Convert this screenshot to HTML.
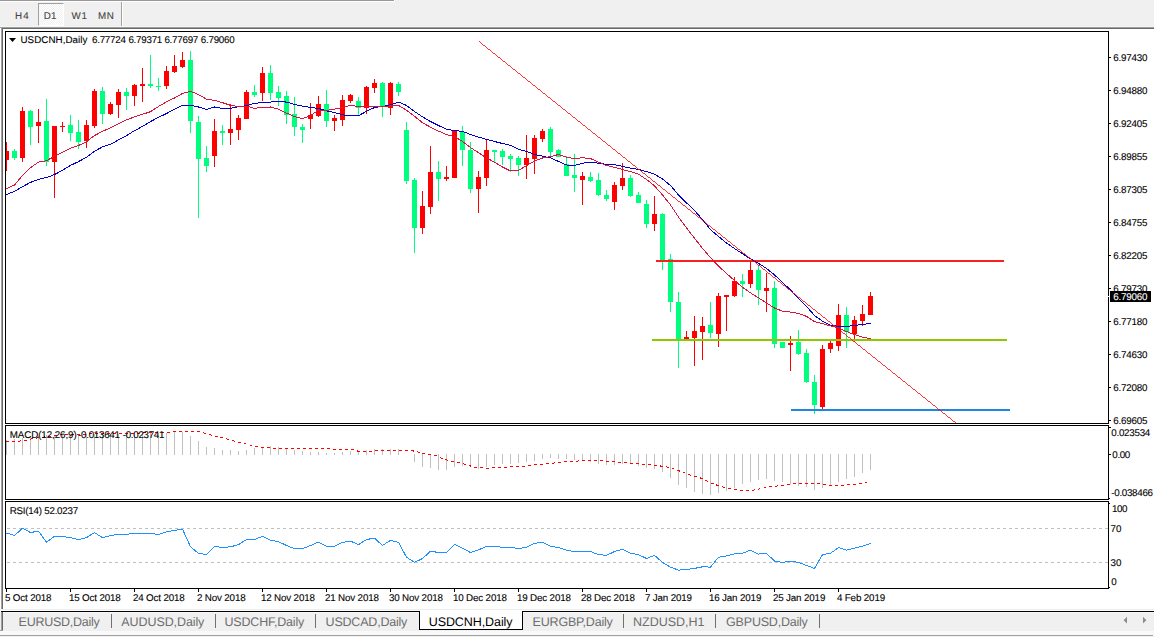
<!DOCTYPE html>
<html><head><meta charset="utf-8"><title>USDCNH,Daily</title>
<style>
html,body{margin:0;padding:0;background:#fff;}
body{width:1154px;height:637px;overflow:hidden;position:relative;font-family:"Liberation Sans", sans-serif;}
#wrap{position:absolute;left:0;top:0;width:1154px;height:637px;overflow:hidden;background:#fff;}
.abs{position:absolute;}
#wrap div{text-rendering:geometricPrecision;-webkit-text-stroke:0.1px;}
.t{position:absolute;white-space:nowrap;font-size:9px;line-height:11px;color:#000;}
svg{position:absolute;left:0;top:0;}
</style></head><body><div id="wrap">
<div class="abs" style="left:0;top:0;width:1154px;height:27px;background:#f0f0f0;"></div>
<div class="abs" style="left:0;top:0;width:394px;height:1px;background:#989898;"></div>
<div class="abs" style="left:0;top:1px;width:395px;height:1px;background:#fff;"></div><div class="abs" style="left:394px;top:0;width:1px;height:2px;background:#fff;"></div>
<div class="abs" style="left:0;top:26px;width:1154px;height:1px;background:#f4f4f4;"></div>
<div class="abs" style="left:0;top:27px;width:1154px;height:1px;background:#a0a0a0;"></div>
<div class="abs" style="left:0;top:28px;width:1154px;height:1px;background:#696969;"></div>
<div class="abs" style="left:38px;top:3px;width:26px;height:23px;box-sizing:border-box;border-left:1px solid #a0a0a0;border-top:1px solid #a0a0a0;border-right:1px solid #fff;border-bottom:1px solid #fff;background:conic-gradient(#fff 25%,#f0f0f0 0 50%,#fff 0 75%,#f0f0f0 0) 0 0/2px 2px;"></div>
<div class="abs" style="left:121px;top:2px;width:1px;height:24px;background:#a0a0a0;"></div>
<div class="abs" style="left:122px;top:2px;width:1px;height:24px;background:#fff;"></div>
<div class="abs" style="left:0;top:28px;width:1px;height:581px;background:#fff;"></div>
<div class="abs" style="left:1px;top:27px;width:1px;height:582px;background:#a0a0a0;"></div>
<div class="abs" style="left:2px;top:28px;width:1px;height:581px;background:#696969;"></div>
<div class="abs" style="left:0;top:609px;width:1154px;height:1px;background:#ececec;"></div>
<div class="abs" style="left:1px;top:611px;width:1153px;height:1px;background:#000;"></div>
<div class="abs" style="left:0;top:612px;width:1154px;height:19px;background:#f0f0f0;"></div>
<div class="abs" style="left:0;top:612px;width:1154px;height:1px;background:#f8f8f8;"></div>
<div class="abs" style="left:0;top:631px;width:1154px;height:4px;background:#f9f9f9;"></div>
<div class="abs" style="left:0;top:635px;width:1153px;height:1px;background:#a0a0a0;"></div>
<div class="abs" style="left:0;top:636px;width:1154px;height:1px;background:#f0f0f0;"></div>
<div class="abs" style="left:1px;top:612px;width:1px;height:18px;background:#a0a0a0;"></div>
<div class="abs" style="left:2px;top:612px;width:1px;height:18px;background:#696969;"></div>
<div class="abs" style="left:0px;top:630px;width:3px;height:1px;background:#a0a0a0;"></div>
<div class="abs" style="left:419px;top:611px;width:104px;height:19px;background:#fff;border:1px solid #000;border-top:none;box-sizing:border-box;"></div>
<div class="abs" style="left:111px;top:614px;width:1px;height:14px;background:#707070;"></div>
<div class="abs" style="left:215px;top:614px;width:1px;height:14px;background:#707070;"></div>
<div class="abs" style="left:315px;top:614px;width:1px;height:14px;background:#707070;"></div>
<div class="abs" style="left:623px;top:614px;width:1px;height:14px;background:#707070;"></div>
<div class="abs" style="left:715px;top:614px;width:1px;height:14px;background:#707070;"></div>
<div class="abs" style="left:819px;top:614px;width:1px;height:14px;background:#707070;"></div>
<svg width="1154" height="637" viewBox="0 0 1154 637" shape-rendering="crispEdges">
<defs><clipPath id="cm"><rect x="6" y="32" width="1102" height="391"/></clipPath><clipPath id="c2"><rect x="6" y="426" width="1102" height="73"/></clipPath><clipPath id="c3"><rect x="6" y="502" width="1102" height="86"/></clipPath></defs>
<rect x="5" y="31" width="1104" height="1" fill="#000"/><rect x="5" y="423" width="1104" height="1" fill="#000"/><rect x="5" y="31" width="1" height="393" fill="#000"/><rect x="1108" y="31" width="1" height="393" fill="#000"/>
<rect x="5" y="425" width="1104" height="1" fill="#000"/><rect x="5" y="499" width="1104" height="1" fill="#000"/><rect x="5" y="425" width="1" height="75" fill="#000"/><rect x="1108" y="425" width="1" height="75" fill="#000"/>
<rect x="5" y="501" width="1104" height="1" fill="#000"/><rect x="5" y="588" width="1104" height="1" fill="#000"/><rect x="5" y="501" width="1" height="88" fill="#000"/><rect x="1108" y="501" width="1" height="88" fill="#000"/>
<g clip-path="url(#cm)">
<rect x="6" y="142" width="1" height="29" fill="#ff0000"/><rect x="4" y="151" width="5" height="9" fill="#ff0000"/>
<rect x="14" y="149" width="1" height="11" fill="#00ff7f"/><rect x="12" y="151" width="5" height="7" fill="#00ff7f"/>
<rect x="22" y="107" width="1" height="55" fill="#ff0000"/><rect x="20" y="111" width="5" height="47" fill="#ff0000"/>
<rect x="30" y="110" width="1" height="35" fill="#00ff7f"/><rect x="28" y="111" width="5" height="16" fill="#00ff7f"/>
<rect x="38" y="109" width="1" height="34" fill="#ff0000"/><rect x="36" y="122" width="5" height="4" fill="#ff0000"/>
<rect x="46" y="99" width="1" height="67" fill="#00ff7f"/><rect x="44" y="121" width="5" height="41" fill="#00ff7f"/>
<rect x="54" y="126" width="1" height="72" fill="#ff0000"/><rect x="52" y="126" width="5" height="36" fill="#ff0000"/>
<rect x="62" y="122" width="1" height="10" fill="#ff0000"/><rect x="60" y="126" width="5" height="1" fill="#ff0000"/>
<rect x="70" y="115" width="1" height="26" fill="#00ff7f"/><rect x="68" y="125" width="5" height="8" fill="#00ff7f"/>
<rect x="78" y="120" width="1" height="29" fill="#00ff7f"/><rect x="76" y="132" width="5" height="10" fill="#00ff7f"/>
<rect x="86" y="120" width="1" height="28" fill="#ff0000"/><rect x="84" y="125" width="5" height="16" fill="#ff0000"/>
<rect x="94" y="89" width="1" height="39" fill="#ff0000"/><rect x="92" y="91" width="5" height="35" fill="#ff0000"/>
<rect x="102" y="87" width="1" height="37" fill="#00ff7f"/><rect x="100" y="91" width="5" height="23" fill="#00ff7f"/>
<rect x="110" y="102" width="1" height="13" fill="#ff0000"/><rect x="108" y="104" width="5" height="10" fill="#ff0000"/>
<rect x="118" y="89" width="1" height="29" fill="#ff0000"/><rect x="116" y="92" width="5" height="13" fill="#ff0000"/>
<rect x="126" y="88" width="1" height="22" fill="#00ff7f"/><rect x="124" y="92" width="5" height="4" fill="#00ff7f"/>
<rect x="134" y="84" width="1" height="22" fill="#ff0000"/><rect x="132" y="85" width="5" height="11" fill="#ff0000"/>
<rect x="142" y="68" width="1" height="34" fill="#ff0000"/><rect x="140" y="84" width="5" height="2" fill="#ff0000"/>
<rect x="150" y="55" width="1" height="33" fill="#00ff7f"/><rect x="148" y="84" width="5" height="2" fill="#00ff7f"/>
<rect x="158" y="78" width="1" height="13" fill="#00ff7f"/><rect x="156" y="86" width="5" height="1" fill="#00ff7f"/>
<rect x="166" y="66" width="1" height="23" fill="#ff0000"/><rect x="164" y="71" width="5" height="15" fill="#ff0000"/>
<rect x="174" y="55" width="1" height="18" fill="#ff0000"/><rect x="172" y="66" width="5" height="6" fill="#ff0000"/>
<rect x="182" y="52" width="1" height="16" fill="#ff0000"/><rect x="180" y="60" width="5" height="7" fill="#ff0000"/>
<rect x="190" y="51" width="1" height="82" fill="#00ff7f"/><rect x="188" y="60" width="5" height="61" fill="#00ff7f"/>
<rect x="198" y="116" width="1" height="102" fill="#00ff7f"/><rect x="196" y="122" width="5" height="37" fill="#00ff7f"/>
<rect x="206" y="146" width="1" height="26" fill="#00ff7f"/><rect x="204" y="158" width="5" height="8" fill="#00ff7f"/>
<rect x="214" y="119" width="1" height="48" fill="#ff0000"/><rect x="212" y="131" width="5" height="25" fill="#ff0000"/>
<rect x="222" y="125" width="1" height="20" fill="#00ff7f"/><rect x="220" y="131" width="5" height="2" fill="#00ff7f"/>
<rect x="230" y="104" width="1" height="41" fill="#ff0000"/><rect x="228" y="129" width="5" height="4" fill="#ff0000"/>
<rect x="238" y="115" width="1" height="25" fill="#ff0000"/><rect x="236" y="118" width="5" height="12" fill="#ff0000"/>
<rect x="246" y="90" width="1" height="29" fill="#ff0000"/><rect x="244" y="92" width="5" height="27" fill="#ff0000"/>
<rect x="254" y="85" width="1" height="12" fill="#00ff7f"/><rect x="252" y="92" width="5" height="3" fill="#00ff7f"/>
<rect x="262" y="67" width="1" height="34" fill="#ff0000"/><rect x="260" y="73" width="5" height="20" fill="#ff0000"/>
<rect x="270" y="65" width="1" height="35" fill="#00ff7f"/><rect x="268" y="73" width="5" height="20" fill="#00ff7f"/>
<rect x="278" y="86" width="1" height="20" fill="#00ff7f"/><rect x="276" y="92" width="5" height="6" fill="#00ff7f"/>
<rect x="286" y="91" width="1" height="33" fill="#00ff7f"/><rect x="284" y="96" width="5" height="19" fill="#00ff7f"/>
<rect x="294" y="97" width="1" height="39" fill="#00ff7f"/><rect x="292" y="114" width="5" height="13" fill="#00ff7f"/>
<rect x="302" y="124" width="1" height="19" fill="#00ff7f"/><rect x="300" y="127" width="5" height="3" fill="#00ff7f"/>
<rect x="310" y="103" width="1" height="26" fill="#ff0000"/><rect x="308" y="115" width="5" height="4" fill="#ff0000"/>
<rect x="318" y="96" width="1" height="21" fill="#ff0000"/><rect x="316" y="104" width="5" height="12" fill="#ff0000"/>
<rect x="326" y="90" width="1" height="37" fill="#00ff7f"/><rect x="324" y="104" width="5" height="17" fill="#00ff7f"/>
<rect x="334" y="115" width="1" height="16" fill="#ff0000"/><rect x="332" y="118" width="5" height="3" fill="#ff0000"/>
<rect x="342" y="95" width="1" height="31" fill="#ff0000"/><rect x="340" y="100" width="5" height="20" fill="#ff0000"/>
<rect x="350" y="94" width="1" height="9" fill="#ff0000"/><rect x="348" y="95" width="5" height="6" fill="#ff0000"/>
<rect x="358" y="97" width="1" height="19" fill="#00ff7f"/><rect x="356" y="101" width="5" height="7" fill="#00ff7f"/>
<rect x="366" y="86" width="1" height="28" fill="#ff0000"/><rect x="364" y="87" width="5" height="21" fill="#ff0000"/>
<rect x="374" y="79" width="1" height="14" fill="#ff0000"/><rect x="372" y="83" width="5" height="5" fill="#ff0000"/>
<rect x="382" y="82" width="1" height="35" fill="#00ff7f"/><rect x="380" y="83" width="5" height="24" fill="#00ff7f"/>
<rect x="390" y="82" width="1" height="33" fill="#ff0000"/><rect x="388" y="83" width="5" height="25" fill="#ff0000"/>
<rect x="398" y="82" width="1" height="14" fill="#00ff7f"/><rect x="396" y="84" width="5" height="8" fill="#00ff7f"/>
<rect x="406" y="122" width="1" height="62" fill="#00ff7f"/><rect x="404" y="130" width="5" height="51" fill="#00ff7f"/>
<rect x="414" y="178" width="1" height="75" fill="#00ff7f"/><rect x="412" y="180" width="5" height="48" fill="#00ff7f"/>
<rect x="422" y="191" width="1" height="43" fill="#ff0000"/><rect x="420" y="206" width="5" height="22" fill="#ff0000"/>
<rect x="430" y="146" width="1" height="68" fill="#ff0000"/><rect x="428" y="172" width="5" height="35" fill="#ff0000"/>
<rect x="438" y="161" width="1" height="40" fill="#00ff7f"/><rect x="436" y="172" width="5" height="7" fill="#00ff7f"/>
<rect x="446" y="166" width="1" height="15" fill="#ff0000"/><rect x="444" y="177" width="5" height="2" fill="#ff0000"/>
<rect x="454" y="130" width="1" height="48" fill="#ff0000"/><rect x="452" y="131" width="5" height="47" fill="#ff0000"/>
<rect x="462" y="126" width="1" height="40" fill="#00ff7f"/><rect x="460" y="132" width="5" height="18" fill="#00ff7f"/>
<rect x="470" y="142" width="1" height="51" fill="#00ff7f"/><rect x="468" y="150" width="5" height="39" fill="#00ff7f"/>
<rect x="478" y="171" width="1" height="42" fill="#ff0000"/><rect x="476" y="177" width="5" height="12" fill="#ff0000"/>
<rect x="486" y="140" width="1" height="46" fill="#ff0000"/><rect x="484" y="150" width="5" height="28" fill="#ff0000"/>
<rect x="494" y="150" width="1" height="12" fill="#00ff7f"/><rect x="492" y="150" width="5" height="2" fill="#00ff7f"/>
<rect x="502" y="149" width="1" height="16" fill="#00ff7f"/><rect x="500" y="151" width="5" height="6" fill="#00ff7f"/>
<rect x="510" y="154" width="1" height="18" fill="#00ff7f"/><rect x="508" y="156" width="5" height="3" fill="#00ff7f"/>
<rect x="518" y="156" width="1" height="20" fill="#00ff7f"/><rect x="516" y="158" width="5" height="7" fill="#00ff7f"/>
<rect x="526" y="135" width="1" height="44" fill="#ff0000"/><rect x="524" y="158" width="5" height="7" fill="#ff0000"/>
<rect x="534" y="135" width="1" height="39" fill="#ff0000"/><rect x="532" y="138" width="5" height="21" fill="#ff0000"/>
<rect x="542" y="129" width="1" height="13" fill="#ff0000"/><rect x="540" y="131" width="5" height="8" fill="#ff0000"/>
<rect x="550" y="127" width="1" height="30" fill="#00ff7f"/><rect x="548" y="129" width="5" height="23" fill="#00ff7f"/>
<rect x="558" y="149" width="1" height="8" fill="#00ff7f"/><rect x="556" y="150" width="5" height="7" fill="#00ff7f"/>
<rect x="566" y="156" width="1" height="20" fill="#00ff7f"/><rect x="564" y="164" width="5" height="12" fill="#00ff7f"/>
<rect x="574" y="154" width="1" height="38" fill="#00ff7f"/><rect x="572" y="175" width="5" height="3" fill="#00ff7f"/>
<rect x="582" y="172" width="1" height="33" fill="#ff0000"/><rect x="580" y="176" width="5" height="4" fill="#ff0000"/>
<rect x="590" y="172" width="1" height="10" fill="#00ff7f"/><rect x="588" y="177" width="5" height="4" fill="#00ff7f"/>
<rect x="598" y="173" width="1" height="23" fill="#00ff7f"/><rect x="596" y="180" width="5" height="15" fill="#00ff7f"/>
<rect x="606" y="190" width="1" height="11" fill="#00ff7f"/><rect x="604" y="195" width="5" height="4" fill="#00ff7f"/>
<rect x="614" y="182" width="1" height="28" fill="#ff0000"/><rect x="612" y="185" width="5" height="17" fill="#ff0000"/>
<rect x="622" y="163" width="1" height="27" fill="#ff0000"/><rect x="620" y="178" width="5" height="8" fill="#ff0000"/>
<rect x="630" y="175" width="1" height="22" fill="#00ff7f"/><rect x="628" y="178" width="5" height="18" fill="#00ff7f"/>
<rect x="638" y="192" width="1" height="11" fill="#00ff7f"/><rect x="636" y="195" width="5" height="8" fill="#00ff7f"/>
<rect x="646" y="200" width="1" height="28" fill="#00ff7f"/><rect x="644" y="204" width="5" height="20" fill="#00ff7f"/>
<rect x="654" y="196" width="1" height="35" fill="#ff0000"/><rect x="652" y="214" width="5" height="10" fill="#ff0000"/>
<rect x="662" y="213" width="1" height="57" fill="#00ff7f"/><rect x="660" y="214" width="5" height="47" fill="#00ff7f"/>
<rect x="670" y="254" width="1" height="58" fill="#00ff7f"/><rect x="668" y="259" width="5" height="43" fill="#00ff7f"/>
<rect x="678" y="292" width="1" height="76" fill="#00ff7f"/><rect x="676" y="302" width="5" height="37" fill="#00ff7f"/>
<rect x="686" y="331" width="1" height="10" fill="#ff0000"/><rect x="684" y="337" width="5" height="4" fill="#ff0000"/>
<rect x="694" y="316" width="1" height="50" fill="#ff0000"/><rect x="692" y="331" width="5" height="7" fill="#ff0000"/>
<rect x="702" y="317" width="1" height="43" fill="#ff0000"/><rect x="700" y="326" width="5" height="6" fill="#ff0000"/>
<rect x="710" y="302" width="1" height="36" fill="#00ff7f"/><rect x="708" y="325" width="5" height="8" fill="#00ff7f"/>
<rect x="718" y="293" width="1" height="54" fill="#ff0000"/><rect x="716" y="296" width="5" height="38" fill="#ff0000"/>
<rect x="726" y="295" width="1" height="36" fill="#ff0000"/><rect x="724" y="295" width="5" height="2" fill="#ff0000"/>
<rect x="734" y="277" width="1" height="20" fill="#ff0000"/><rect x="732" y="281" width="5" height="15" fill="#ff0000"/>
<rect x="742" y="274" width="1" height="23" fill="#00ff7f"/><rect x="740" y="281" width="5" height="3" fill="#00ff7f"/>
<rect x="750" y="261" width="1" height="27" fill="#ff0000"/><rect x="748" y="270" width="5" height="14" fill="#ff0000"/>
<rect x="758" y="265" width="1" height="40" fill="#00ff7f"/><rect x="756" y="270" width="5" height="20" fill="#00ff7f"/>
<rect x="766" y="273" width="1" height="39" fill="#ff0000"/><rect x="764" y="288" width="5" height="3" fill="#ff0000"/>
<rect x="774" y="281" width="1" height="67" fill="#00ff7f"/><rect x="772" y="288" width="5" height="56" fill="#00ff7f"/>
<rect x="782" y="342" width="1" height="6" fill="#00ff7f"/><rect x="780" y="342" width="5" height="6" fill="#00ff7f"/>
<rect x="790" y="336" width="1" height="35" fill="#ff0000"/><rect x="788" y="343" width="5" height="2" fill="#ff0000"/>
<rect x="798" y="330" width="1" height="25" fill="#00ff7f"/><rect x="796" y="342" width="5" height="12" fill="#00ff7f"/>
<rect x="806" y="349" width="1" height="34" fill="#00ff7f"/><rect x="804" y="353" width="5" height="29" fill="#00ff7f"/>
<rect x="814" y="375" width="1" height="39" fill="#00ff7f"/><rect x="812" y="382" width="5" height="23" fill="#00ff7f"/>
<rect x="822" y="345" width="1" height="64" fill="#ff0000"/><rect x="820" y="349" width="5" height="58" fill="#ff0000"/>
<rect x="830" y="341" width="1" height="12" fill="#ff0000"/><rect x="828" y="343" width="5" height="6" fill="#ff0000"/>
<rect x="838" y="304" width="1" height="47" fill="#ff0000"/><rect x="836" y="315" width="5" height="31" fill="#ff0000"/>
<rect x="846" y="307" width="1" height="41" fill="#00ff7f"/><rect x="844" y="315" width="5" height="17" fill="#00ff7f"/>
<rect x="854" y="316" width="1" height="26" fill="#ff0000"/><rect x="852" y="320" width="5" height="14" fill="#ff0000"/>
<rect x="862" y="305" width="1" height="21" fill="#ff0000"/><rect x="860" y="314" width="5" height="7" fill="#ff0000"/>
<rect x="870" y="292" width="1" height="23" fill="#ff0000"/><rect x="868" y="296" width="5" height="19" fill="#ff0000"/>
<rect x="656" y="260" width="348" height="2" fill="#f92020"/><rect x="652" y="339" width="355" height="2" fill="#8cc800"/><rect x="791" y="409" width="219" height="2" fill="#1e87e1"/>
<polyline points="6.5,194.5 14.5,191.4 22.5,186.7 30.5,182.4 38.5,179.4 46.5,177.5 54.5,174.6 62.5,170.3 70.5,165.4 78.5,161.6 86.5,157.3 94.5,151.2 102.5,146.9 110.5,144.3 118.5,139.9 126.5,135.6 134.5,130.7 142.5,126.4 150.5,121.5 158.5,117.4 166.5,113.5 174.5,109.1 182.5,105.3 190.5,105.3 198.5,107.0 206.5,109.6 214.5,107.0 222.5,108.4 230.5,108.4 238.5,106.6 246.5,105.8 254.5,103.2 262.5,102.7 270.5,102.1 278.5,101.3 286.5,102.1 294.5,104.4 302.5,106.1 310.5,107.5 318.5,108.4 326.5,110.8 334.5,112.5 342.5,114.8 350.5,115.7 358.5,115.7 366.5,111.3 374.5,107.5 382.5,106.5 390.5,104.7 398.5,102.1 406.5,105.4 414.5,111.5 422.5,116.8 430.5,121.5 438.5,125.5 446.5,129.3 454.5,130.5 462.5,131.4 470.5,134.5 478.5,137.1 486.5,139.4 494.5,141.5 502.5,143.5 510.5,145.4 518.5,149.3 526.5,151.3 534.5,154.5 542.5,156.2 550.5,157.9 558.5,161.4 566.5,165.0 574.5,165.3 582.5,163.3 590.5,162.1 598.5,163.3 606.5,164.3 614.5,164.7 622.5,166.4 630.5,168.1 638.5,169.5 646.5,171.6 654.5,174.2 662.5,178.9 670.5,185.5 678.5,195.0 686.5,202.8 694.5,210.6 702.5,219.5 710.5,229.8 718.5,236.5 726.5,243.0 734.5,248.5 742.5,253.7 750.5,258.9 758.5,263.3 766.5,268.5 774.5,274.9 782.5,282.3 790.5,290.1 798.5,298.5 806.5,306.3 814.5,315.5 822.5,321.2 830.5,325.1 838.5,326.4 846.5,326.4 854.5,325.4 862.5,324.5 870.5,323.3" fill="none" stroke="#0000cd" stroke-width="1"/>
<polyline points="6.5,188.5 14.5,185.0 22.5,175.5 30.5,167.7 38.5,162.1 46.5,160.7 54.5,156.4 62.5,152.1 70.5,148.2 78.5,145.5 86.5,141.7 94.5,135.6 102.5,131.3 110.5,127.8 118.5,123.8 126.5,119.8 134.5,116.9 142.5,114.3 150.5,111.7 158.5,106.5 166.5,101.8 174.5,98.0 182.5,93.4 190.5,91.3 198.5,94.5 206.5,99.2 214.5,100.4 222.5,102.7 230.5,105.3 238.5,106.5 246.5,106.1 254.5,108.4 262.5,107.3 270.5,107.0 278.5,109.1 286.5,113.1 294.5,116.5 302.5,118.6 310.5,115.7 318.5,110.1 326.5,110.5 334.5,109.1 342.5,107.5 350.5,105.3 358.5,106.5 366.5,106.6 374.5,106.6 382.5,107.0 390.5,105.9 398.5,105.4 406.5,110.3 414.5,116.3 422.5,122.7 430.5,127.2 438.5,131.1 446.5,134.5 454.5,136.6 462.5,141.5 470.5,147.5 478.5,152.7 486.5,157.9 494.5,162.2 502.5,167.0 510.5,171.0 518.5,170.3 526.5,165.7 534.5,161.0 542.5,158.0 550.5,156.6 558.5,154.5 566.5,157.2 574.5,158.8 582.5,157.7 590.5,158.6 598.5,162.1 606.5,165.5 614.5,167.3 622.5,169.5 630.5,171.6 638.5,174.2 646.5,179.4 654.5,185.8 662.5,195.0 670.5,204.9 678.5,217.0 686.5,228.0 694.5,238.2 702.5,248.3 710.5,257.7 718.5,266.2 726.5,273.4 734.5,280.6 742.5,287.2 750.5,292.9 758.5,297.8 766.5,303.0 774.5,308.0 782.5,311.2 790.5,312.1 798.5,313.4 806.5,316.4 814.5,321.6 822.5,323.7 830.5,325.9 838.5,327.7 846.5,331.6 854.5,334.6 862.5,337.2 870.5,338.6" fill="none" stroke="#dc143c" stroke-width="1"/>
<line x1="479" y1="41.5" x2="956.5" y2="423.5" stroke="#ff0000" stroke-width="0.8"/>
</g>
<rect x="1109" y="57" width="2" height="1" fill="#000"/><rect x="1109" y="90" width="2" height="1" fill="#000"/><rect x="1109" y="123" width="2" height="1" fill="#000"/><rect x="1109" y="156" width="2" height="1" fill="#000"/><rect x="1109" y="189" width="2" height="1" fill="#000"/><rect x="1109" y="222" width="2" height="1" fill="#000"/><rect x="1109" y="255" width="2" height="1" fill="#000"/><rect x="1109" y="288" width="2" height="1" fill="#000"/><rect x="1109" y="321" width="2" height="1" fill="#000"/><rect x="1109" y="354" width="2" height="1" fill="#000"/><rect x="1109" y="387" width="2" height="1" fill="#000"/><rect x="1109" y="420" width="2" height="1" fill="#000"/>
<rect x="1110" y="291" width="41" height="11" fill="#000"/>
<g clip-path="url(#c2)">
<rect x="6" y="440" width="1" height="15" fill="#c0c0c0"/><rect x="14" y="439" width="1" height="16" fill="#c0c0c0"/><rect x="22" y="438" width="1" height="17" fill="#c0c0c0"/><rect x="30" y="436" width="1" height="19" fill="#c0c0c0"/><rect x="38" y="436" width="1" height="19" fill="#c0c0c0"/><rect x="46" y="435" width="1" height="20" fill="#c0c0c0"/><rect x="54" y="435" width="1" height="20" fill="#c0c0c0"/><rect x="62" y="434" width="1" height="21" fill="#c0c0c0"/><rect x="70" y="434" width="1" height="21" fill="#c0c0c0"/><rect x="78" y="434" width="1" height="21" fill="#c0c0c0"/><rect x="86" y="434" width="1" height="21" fill="#c0c0c0"/><rect x="94" y="434" width="1" height="21" fill="#c0c0c0"/><rect x="102" y="434" width="1" height="21" fill="#c0c0c0"/><rect x="110" y="434" width="1" height="21" fill="#c0c0c0"/><rect x="118" y="434" width="1" height="21" fill="#c0c0c0"/><rect x="126" y="433" width="1" height="22" fill="#c0c0c0"/><rect x="134" y="433" width="1" height="22" fill="#c0c0c0"/><rect x="142" y="433" width="1" height="22" fill="#c0c0c0"/><rect x="150" y="433" width="1" height="22" fill="#c0c0c0"/><rect x="158" y="433" width="1" height="22" fill="#c0c0c0"/><rect x="166" y="433" width="1" height="22" fill="#c0c0c0"/><rect x="174" y="432" width="1" height="23" fill="#c0c0c0"/><rect x="182" y="432" width="1" height="23" fill="#c0c0c0"/><rect x="190" y="436" width="1" height="19" fill="#c0c0c0"/><rect x="198" y="441" width="1" height="14" fill="#c0c0c0"/><rect x="206" y="447" width="1" height="8" fill="#c0c0c0"/><rect x="214" y="448" width="1" height="7" fill="#c0c0c0"/><rect x="222" y="450" width="1" height="5" fill="#c0c0c0"/><rect x="230" y="450" width="1" height="5" fill="#c0c0c0"/><rect x="238" y="451" width="1" height="4" fill="#c0c0c0"/><rect x="246" y="450" width="1" height="5" fill="#c0c0c0"/><rect x="254" y="448" width="1" height="7" fill="#c0c0c0"/><rect x="262" y="447" width="1" height="8" fill="#c0c0c0"/><rect x="270" y="446" width="1" height="9" fill="#c0c0c0"/><rect x="278" y="447" width="1" height="8" fill="#c0c0c0"/><rect x="286" y="448" width="1" height="7" fill="#c0c0c0"/><rect x="294" y="450" width="1" height="5" fill="#c0c0c0"/><rect x="302" y="451" width="1" height="4" fill="#c0c0c0"/><rect x="310" y="452" width="1" height="3" fill="#c0c0c0"/><rect x="318" y="452" width="1" height="3" fill="#c0c0c0"/><rect x="326" y="453" width="1" height="2" fill="#c0c0c0"/><rect x="334" y="453" width="1" height="2" fill="#c0c0c0"/><rect x="342" y="452" width="1" height="3" fill="#c0c0c0"/><rect x="350" y="451" width="1" height="4" fill="#c0c0c0"/><rect x="358" y="451" width="1" height="4" fill="#c0c0c0"/><rect x="366" y="450" width="1" height="5" fill="#c0c0c0"/><rect x="374" y="449" width="1" height="6" fill="#c0c0c0"/><rect x="382" y="449" width="1" height="6" fill="#c0c0c0"/><rect x="390" y="449" width="1" height="6" fill="#c0c0c0"/><rect x="398" y="449" width="1" height="6" fill="#c0c0c0"/><rect x="414" y="454" width="1" height="8" fill="#c0c0c0"/><rect x="422" y="454" width="1" height="13" fill="#c0c0c0"/><rect x="430" y="454" width="1" height="14" fill="#c0c0c0"/><rect x="438" y="454" width="1" height="16" fill="#c0c0c0"/><rect x="446" y="454" width="1" height="16" fill="#c0c0c0"/><rect x="454" y="454" width="1" height="13" fill="#c0c0c0"/><rect x="462" y="454" width="1" height="12" fill="#c0c0c0"/><rect x="470" y="454" width="1" height="13" fill="#c0c0c0"/><rect x="478" y="454" width="1" height="15" fill="#c0c0c0"/><rect x="486" y="454" width="1" height="13" fill="#c0c0c0"/><rect x="494" y="454" width="1" height="11" fill="#c0c0c0"/><rect x="502" y="454" width="1" height="10" fill="#c0c0c0"/><rect x="510" y="454" width="1" height="10" fill="#c0c0c0"/><rect x="518" y="454" width="1" height="9" fill="#c0c0c0"/><rect x="526" y="454" width="1" height="8" fill="#c0c0c0"/><rect x="534" y="454" width="1" height="7" fill="#c0c0c0"/><rect x="542" y="454" width="1" height="5" fill="#c0c0c0"/><rect x="550" y="454" width="1" height="4" fill="#c0c0c0"/><rect x="558" y="454" width="1" height="5" fill="#c0c0c0"/><rect x="566" y="454" width="1" height="5" fill="#c0c0c0"/><rect x="574" y="454" width="1" height="6" fill="#c0c0c0"/><rect x="582" y="454" width="1" height="6" fill="#c0c0c0"/><rect x="590" y="454" width="1" height="8" fill="#c0c0c0"/><rect x="598" y="454" width="1" height="10" fill="#c0c0c0"/><rect x="606" y="454" width="1" height="11" fill="#c0c0c0"/><rect x="614" y="454" width="1" height="11" fill="#c0c0c0"/><rect x="622" y="454" width="1" height="10" fill="#c0c0c0"/><rect x="630" y="454" width="1" height="10" fill="#c0c0c0"/><rect x="638" y="454" width="1" height="12" fill="#c0c0c0"/><rect x="646" y="454" width="1" height="14" fill="#c0c0c0"/><rect x="654" y="454" width="1" height="15" fill="#c0c0c0"/><rect x="662" y="454" width="1" height="18" fill="#c0c0c0"/><rect x="670" y="454" width="1" height="24" fill="#c0c0c0"/><rect x="678" y="454" width="1" height="31" fill="#c0c0c0"/><rect x="686" y="454" width="1" height="34" fill="#c0c0c0"/><rect x="694" y="454" width="1" height="38" fill="#c0c0c0"/><rect x="702" y="454" width="1" height="40" fill="#c0c0c0"/><rect x="710" y="454" width="1" height="41" fill="#c0c0c0"/><rect x="718" y="454" width="1" height="39" fill="#c0c0c0"/><rect x="726" y="454" width="1" height="37" fill="#c0c0c0"/><rect x="734" y="454" width="1" height="34" fill="#c0c0c0"/><rect x="742" y="454" width="1" height="30" fill="#c0c0c0"/><rect x="750" y="454" width="1" height="28" fill="#c0c0c0"/><rect x="758" y="454" width="1" height="26" fill="#c0c0c0"/><rect x="766" y="454" width="1" height="25" fill="#c0c0c0"/><rect x="774" y="454" width="1" height="27" fill="#c0c0c0"/><rect x="782" y="454" width="1" height="28" fill="#c0c0c0"/><rect x="790" y="454" width="1" height="30" fill="#c0c0c0"/><rect x="798" y="454" width="1" height="32" fill="#c0c0c0"/><rect x="806" y="454" width="1" height="33" fill="#c0c0c0"/><rect x="814" y="454" width="1" height="36" fill="#c0c0c0"/><rect x="822" y="454" width="1" height="34" fill="#c0c0c0"/><rect x="830" y="454" width="1" height="31" fill="#c0c0c0"/><rect x="838" y="454" width="1" height="28" fill="#c0c0c0"/><rect x="846" y="454" width="1" height="25" fill="#c0c0c0"/><rect x="854" y="454" width="1" height="23" fill="#c0c0c0"/><rect x="862" y="454" width="1" height="19" fill="#c0c0c0"/><rect x="870" y="454" width="1" height="16" fill="#c0c0c0"/>
<polyline points="6.0,441.3 18.0,441.2 26.0,440.2 32.0,438.8 40.0,437.6 52.0,435.8 64.0,434.6 80.0,434.2 120.0,433.4 150.0,432.8 166.0,432.6 174.0,431.3 200.0,431.3 208.0,434.4 221.0,437.5 234.0,440.9 247.0,444.3 260.0,447.4 273.0,448.2 329.0,448.2 334.0,449.5 355.0,450.0 358.0,451.2 372.0,451.0 380.0,450.5 411.0,450.5 416.0,451.5 421.0,452.7 425.0,453.9 436.0,455.7 443.0,459.1 454.0,461.7 462.0,463.5 469.0,465.6 477.0,467.7 488.0,468.2 498.0,467.7 511.0,466.9 524.0,466.1 534.0,464.8 550.0,463.5 563.0,462.0 576.0,461.2 590.0,460.0 593.0,460.4 606.0,461.2 619.0,462.2 632.0,463.5 645.0,464.3 658.0,465.6 671.0,467.7 679.0,470.8 689.0,474.7 700.0,477.8 710.0,482.5 720.0,486.4 731.0,488.5 741.0,490.3 752.0,490.3 762.0,488.5 772.0,486.4 783.0,485.6 793.0,483.3 806.0,483.3 819.0,483.8 830.0,485.3 840.0,485.3 850.0,484.8 861.0,483.3 867.0,482.2" fill="none" stroke="#ff0000" stroke-width="1" stroke-dasharray="3,3"/>
</g>
<rect x="1109" y="454" width="2" height="1" fill="#000"/><rect x="1109" y="427" width="2" height="1" fill="#000"/><rect x="1109" y="498" width="1" height="1" fill="#000"/><rect x="1109" y="503" width="1" height="1" fill="#000"/><rect x="1109" y="587" width="1" height="1" fill="#000"/><rect x="1108" y="296" width="2" height="1" fill="#fff"/>
<g clip-path="url(#c3)">
<line x1="7" y1="528.5" x2="1108" y2="528.5" stroke="#c0c0c0" stroke-width="1" stroke-dasharray="3,3"/><line x1="7" y1="562.5" x2="1108" y2="562.5" stroke="#c0c0c0" stroke-width="1" stroke-dasharray="3,3"/>
<polyline points="6.5,533.0 14.5,535.6 22.5,528.1 30.5,532.5 38.5,531.2 46.5,542.1 54.5,536.4 62.5,536.4 70.5,537.7 78.5,539.5 86.5,537.7 94.5,532.5 102.5,537.7 110.5,535.6 118.5,534.3 126.5,534.3 134.5,533.3 142.5,533.3 150.5,533.3 158.5,534.6 166.5,531.7 174.5,530.4 182.5,529.1 190.5,546.8 198.5,553.3 206.5,554.6 214.5,546.3 222.5,547.6 230.5,546.8 238.5,544.7 246.5,539.5 254.5,539.5 262.5,536.4 270.5,540.3 278.5,541.6 286.5,545.5 294.5,548.6 302.5,548.6 310.5,545.5 318.5,542.1 326.5,546.3 334.5,546.3 342.5,542.4 350.5,541.1 358.5,544.7 366.5,539.5 374.5,538.2 382.5,545.5 390.5,540.3 398.5,542.4 406.5,557.2 414.5,562.4 422.5,558.5 430.5,551.2 438.5,552.5 446.5,552.5 454.5,544.2 462.5,548.1 470.5,552.5 478.5,549.9 486.5,546.3 494.5,546.3 502.5,547.3 510.5,547.3 518.5,548.6 526.5,547.3 534.5,543.4 542.5,542.1 550.5,546.3 558.5,547.6 566.5,550.2 574.5,551.5 582.5,551.5 590.5,551.5 598.5,554.6 606.5,555.4 614.5,551.5 622.5,549.4 630.5,553.3 638.5,554.6 646.5,558.5 654.5,555.4 662.5,562.4 670.5,567.1 678.5,570.2 686.5,569.4 694.5,568.4 702.5,566.8 710.5,567.1 718.5,557.2 726.5,555.9 734.5,553.8 742.5,553.3 750.5,550.2 758.5,554.1 766.5,553.3 774.5,561.1 782.5,562.4 790.5,561.1 798.5,562.4 806.5,565.5 814.5,568.4 822.5,554.6 830.5,553.3 838.5,547.6 846.5,550.2 854.5,548.1 862.5,546.3 870.5,543.4" fill="none" stroke="#1e90ff" stroke-width="1"/>
</g>
<rect x="6" y="589" width="1" height="3" fill="#000"/><rect x="70" y="589" width="1" height="3" fill="#000"/><rect x="134" y="589" width="1" height="3" fill="#000"/><rect x="198" y="589" width="1" height="3" fill="#000"/><rect x="262" y="589" width="1" height="3" fill="#000"/><rect x="326" y="589" width="1" height="3" fill="#000"/><rect x="390" y="589" width="1" height="3" fill="#000"/><rect x="454" y="589" width="1" height="3" fill="#000"/><rect x="518" y="589" width="1" height="3" fill="#000"/><rect x="582" y="589" width="1" height="3" fill="#000"/><rect x="646" y="589" width="1" height="3" fill="#000"/><rect x="710" y="589" width="1" height="3" fill="#000"/><rect x="774" y="589" width="1" height="3" fill="#000"/><rect x="838" y="589" width="1" height="3" fill="#000"/>
<polygon points="9,38 16,38 12.5,42" fill="#000" shape-rendering="auto"/>
<polygon points="1127,616.8 1127,623.6 1123.6,620.2" fill="#8c8c8c" shape-rendering="auto"/><polygon points="1143,616.8 1143,623.6 1146.4,620.2" fill="#8c8c8c" shape-rendering="auto"/>
</svg>
<div class="t" style="left:20.51px;top:35px;font-size:9.8px;line-height:11.8px;letter-spacing:0.041px;color:#000;">USDCNH,Daily</div>
<div class="t" style="left:92.01px;top:35px;font-size:9.8px;line-height:11.8px;letter-spacing:-0.258px;color:#000;">6.77724</div>
<div class="t" style="left:128.41px;top:35px;font-size:9.8px;line-height:11.8px;letter-spacing:-0.258px;color:#000;">6.79371</div>
<div class="t" style="left:164.41px;top:35px;font-size:9.8px;line-height:11.8px;letter-spacing:-0.258px;color:#000;">6.77697</div>
<div class="t" style="left:200.81px;top:35px;font-size:9.8px;line-height:11.8px;letter-spacing:-0.258px;color:#000;">6.79060</div>
<div class="t" style="left:1113.31px;top:53px;font-size:9.8px;line-height:11.8px;letter-spacing:-0.208px;color:#000;">6.97430</div>
<div class="t" style="left:1113.31px;top:86px;font-size:9.8px;line-height:11.8px;letter-spacing:-0.208px;color:#000;">6.94880</div>
<div class="t" style="left:1113.31px;top:119px;font-size:9.8px;line-height:11.8px;letter-spacing:-0.208px;color:#000;">6.92405</div>
<div class="t" style="left:1113.31px;top:152px;font-size:9.8px;line-height:11.8px;letter-spacing:-0.208px;color:#000;">6.89855</div>
<div class="t" style="left:1113.31px;top:185px;font-size:9.8px;line-height:11.8px;letter-spacing:-0.208px;color:#000;">6.87305</div>
<div class="t" style="left:1113.31px;top:218px;font-size:9.8px;line-height:11.8px;letter-spacing:-0.208px;color:#000;">6.84755</div>
<div class="t" style="left:1113.31px;top:251px;font-size:9.8px;line-height:11.8px;letter-spacing:-0.208px;color:#000;">6.82205</div>
<div class="t" style="left:1113.31px;top:284px;font-size:9.8px;line-height:11.8px;letter-spacing:-0.208px;color:#000;">6.79730</div>
<div class="t" style="left:1113.31px;top:317px;font-size:9.8px;line-height:11.8px;letter-spacing:-0.208px;color:#000;">6.77180</div>
<div class="t" style="left:1113.31px;top:350px;font-size:9.8px;line-height:11.8px;letter-spacing:-0.208px;color:#000;">6.74630</div>
<div class="t" style="left:1113.31px;top:383px;font-size:9.8px;line-height:11.8px;letter-spacing:-0.208px;color:#000;">6.72080</div>
<div class="t" style="left:1113.31px;top:416px;font-size:9.8px;line-height:11.8px;letter-spacing:-0.208px;color:#000;">6.69605</div>
<div class="t" style="left:1113.31px;top:292px;font-size:9.8px;line-height:11.8px;letter-spacing:-0.208px;color:#fff;">6.79060</div>
<div class="t" style="left:9.71px;top:430px;font-size:9.8px;line-height:11.8px;letter-spacing:-0.091px;color:#000;">MACD(12,26,9)</div>
<div class="t" style="left:78.11px;top:430px;font-size:9.8px;line-height:11.8px;letter-spacing:-0.282px;color:#000;">-0.013641</div>
<div class="t" style="left:122.71px;top:430px;font-size:9.8px;line-height:11.8px;letter-spacing:-0.294px;color:#000;">-0.023741</div>
<div class="t" style="left:1111.31px;top:428px;font-size:9.8px;line-height:11.8px;letter-spacing:-0.272px;color:#000;">0.023534</div>
<div class="t" style="left:1112.31px;top:450px;font-size:9.8px;line-height:11.8px;letter-spacing:-0.369px;color:#000;">0.00</div>
<div class="t" style="left:1111.31px;top:488px;font-size:9.8px;line-height:11.8px;letter-spacing:-0.307px;color:#000;">-0.038466</div>
<div class="t" style="left:9.71px;top:506px;font-size:9.8px;line-height:11.8px;letter-spacing:-0.244px;color:#000;">RSI(14) 52.0237</div>
<div class="t" style="left:1111.91px;top:504px;font-size:9.8px;line-height:11.8px;letter-spacing:-0.344px;color:#000;">100</div>
<div class="t" style="left:1110.61px;top:524px;font-size:9.8px;line-height:11.8px;letter-spacing:-0.134px;color:#000;">70</div>
<div class="t" style="left:1110.61px;top:558px;font-size:9.8px;line-height:11.8px;letter-spacing:-0.134px;color:#000;">30</div>
<div class="t" style="left:1111.31px;top:577px;font-size:9.8px;line-height:11.8px;letter-spacing:0.919px;color:#000;">0</div>
<div class="t" style="left:18.62px;top:615px;font-size:12.5px;line-height:14.5px;letter-spacing:-0.272px;color:#6e6e6e;-webkit-text-stroke:0;">EURUSD,Daily</div>
<div class="t" style="left:121.33px;top:615px;font-size:12.5px;line-height:14.5px;letter-spacing:-0.091px;color:#6e6e6e;-webkit-text-stroke:0;">AUDUSD,Daily</div>
<div class="t" style="left:224.53px;top:615px;font-size:12.5px;line-height:14.5px;letter-spacing:-0.200px;color:#6e6e6e;-webkit-text-stroke:0;">USDCHF,Daily</div>
<div class="t" style="left:325.62px;top:615px;font-size:12.5px;line-height:14.5px;letter-spacing:-0.209px;color:#6e6e6e;-webkit-text-stroke:0;">USDCAD,Daily</div>
<div class="t" style="left:428.73px;top:615px;font-size:12.5px;line-height:14.5px;letter-spacing:-0.080px;color:#000;-webkit-text-stroke:0;">USDCNH,Daily</div>
<div class="t" style="left:532.62px;top:615px;font-size:12.5px;line-height:14.5px;letter-spacing:-0.199px;color:#6e6e6e;-webkit-text-stroke:0;">EURGBP,Daily</div>
<div class="t" style="left:633.12px;top:615px;font-size:12.5px;line-height:14.5px;letter-spacing:-0.037px;color:#6e6e6e;-webkit-text-stroke:0;">NZDUSD,H1</div>
<div class="t" style="left:726.12px;top:615px;font-size:12.5px;line-height:14.5px;letter-spacing:-0.209px;color:#6e6e6e;-webkit-text-stroke:0;">GBPUSD,Daily</div>
<div class="t" style="left:15.11px;top:11px;font-size:9.8px;line-height:11.8px;letter-spacing:1.041px;color:#444;">H4</div>
<div class="t" style="left:43.81px;top:11px;font-size:9.8px;line-height:11.8px;letter-spacing:0.141px;color:#444;">D1</div>
<div class="t" style="left:71.41px;top:11px;font-size:9.8px;line-height:11.8px;letter-spacing:0.769px;color:#444;">W1</div>
<div class="t" style="left:97.91px;top:11px;font-size:9.8px;line-height:11.8px;letter-spacing:0.722px;color:#444;">MN</div>
<div class="t" style="left:4.91px;top:593px;font-size:9.8px;line-height:11.8px;letter-spacing:-0.150px;color:#000;">5 Oct 2018</div>
<div class="t" style="left:68.91px;top:593px;font-size:9.8px;line-height:11.8px;letter-spacing:-0.150px;color:#000;">15 Oct 2018</div>
<div class="t" style="left:132.91px;top:593px;font-size:9.8px;line-height:11.8px;letter-spacing:-0.150px;color:#000;">24 Oct 2018</div>
<div class="t" style="left:196.91px;top:593px;font-size:9.8px;line-height:11.8px;letter-spacing:-0.150px;color:#000;">2 Nov 2018</div>
<div class="t" style="left:260.91px;top:593px;font-size:9.8px;line-height:11.8px;letter-spacing:-0.150px;color:#000;">12 Nov 2018</div>
<div class="t" style="left:324.91px;top:593px;font-size:9.8px;line-height:11.8px;letter-spacing:-0.150px;color:#000;">21 Nov 2018</div>
<div class="t" style="left:388.91px;top:593px;font-size:9.8px;line-height:11.8px;letter-spacing:-0.150px;color:#000;">30 Nov 2018</div>
<div class="t" style="left:452.91px;top:593px;font-size:9.8px;line-height:11.8px;letter-spacing:-0.150px;color:#000;">10 Dec 2018</div>
<div class="t" style="left:516.91px;top:593px;font-size:9.8px;line-height:11.8px;letter-spacing:-0.150px;color:#000;">19 Dec 2018</div>
<div class="t" style="left:580.91px;top:593px;font-size:9.8px;line-height:11.8px;letter-spacing:-0.150px;color:#000;">28 Dec 2018</div>
<div class="t" style="left:644.91px;top:593px;font-size:9.8px;line-height:11.8px;letter-spacing:-0.150px;color:#000;">7 Jan 2019</div>
<div class="t" style="left:708.91px;top:593px;font-size:9.8px;line-height:11.8px;letter-spacing:-0.150px;color:#000;">16 Jan 2019</div>
<div class="t" style="left:772.91px;top:593px;font-size:9.8px;line-height:11.8px;letter-spacing:-0.150px;color:#000;">25 Jan 2019</div>
<div class="t" style="left:836.91px;top:593px;font-size:9.8px;line-height:11.8px;letter-spacing:-0.150px;color:#000;">4 Feb 2019</div>
</div></body></html>
